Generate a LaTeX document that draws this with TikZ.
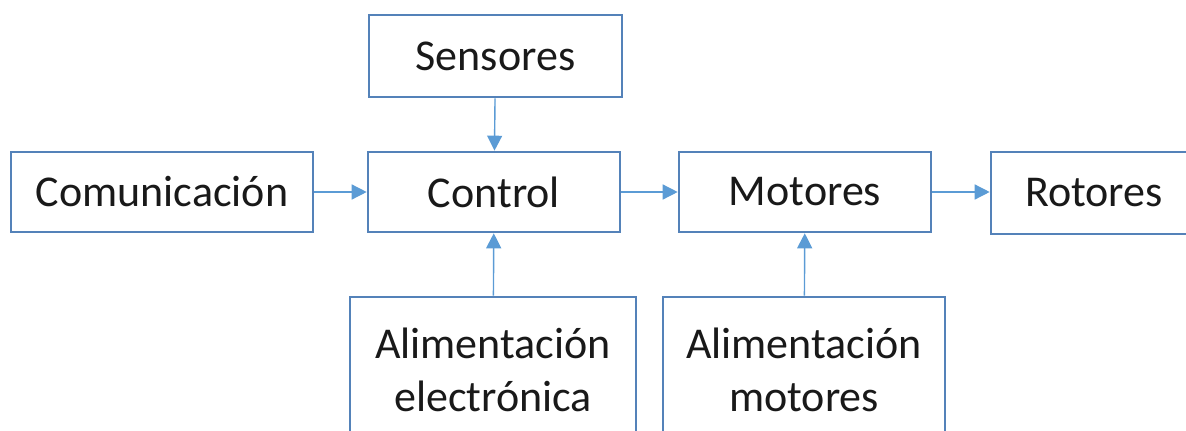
\documentclass[tikz,border=0pt]{standalone}
\usepackage{fontspec}
\setmainfont{Carlito}
\usetikzlibrary{arrows.meta, positioning}
\definecolor{boxblue}{RGB}{84,130,185}
\definecolor{arrblue}{RGB}{91,155,213}

\begin{document}
\begin{tikzpicture}[x=1pt, y=-1pt, >={Triangle[length=15pt,width=15pt]},
    blk/.style={draw=boxblue, line width=2.6pt, fill=white, minimum height=80pt,
      align=center, inner sep=0pt, text=black!90, font=\fontsize{44}{53}\selectfont},
    link/.style={->, draw=arrblue, fill=arrblue, line width=1.4pt}]
  \useasboundingbox (0,0) rectangle (1186,431);

  % top row and the main chain
  \node[blk, minimum width=253pt, minimum height=82pt] (sens) at (495.5,56) {Sensores};
  \node[blk, minimum width=302pt] (com) at (162,192) {Comunicación};
  \node[blk, minimum width=252pt] (ctrl) at (494,192) {Control};
  \node[blk, minimum width=252pt] (mot) at (805,192) {Motores};
  \node[blk, minimum width=206pt, minimum height=82pt] (rot) at (1094,193) {Rotores};

  % power supplies, cut by the lower edge
  \node[blk, minimum width=286pt, minimum height=146pt] (aelec) at (493,370)
    {Alimentación\\electrónica};
  \node[blk, minimum width=282pt, minimum height=146pt] (amot) at (804,370)
    {Alimentación\\motores};

  \draw[link] (sens) -- (ctrl);
  \draw[link] (com) -- (ctrl);
  \draw[link] (ctrl) -- (mot);
  \draw[link] (mot.east) -- (mot.east -| rot.west);
  \draw[link] (aelec) -- (ctrl);
  \draw[link] (amot) -- (mot);
\end{tikzpicture}
\end{document}
